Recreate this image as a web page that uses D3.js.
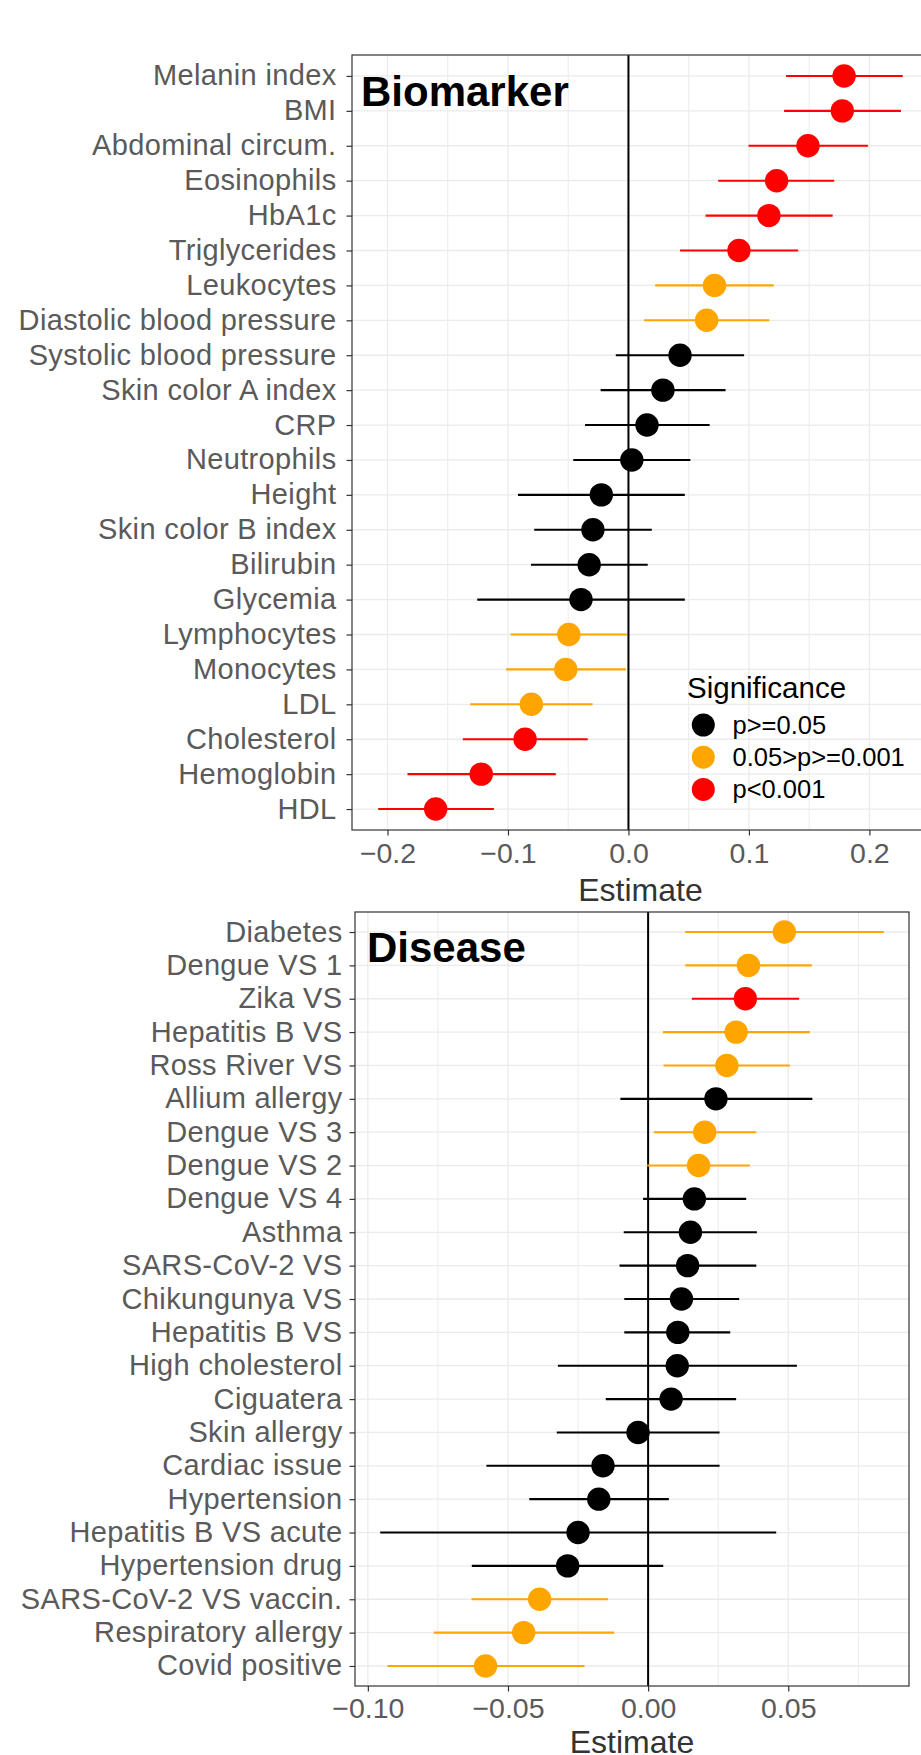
<!DOCTYPE html>
<html>
<head>
<meta charset="utf-8">
<script src="https://cdn.jsdelivr.net/npm/d3@7.9.0/dist/d3.min.js"></script>
<style>
  body { margin: 0; background: #fff; }
  svg { display: block; font-family: "Liberation Sans", Arial, Helvetica, sans-serif; }
</style>
</head>
<body>
<svg id="chart" width="921" height="1755"></svg>
<script>
// significance levels (legend order) and their colours
const sigLevels = ['p>=0.05', '0.05>p>=0.001', 'p<0.001'];
const sigColors = ['#000000', '#FFA500', '#FF0000'];

// Biomarker panel
const bioLabels = ['Melanin index', 'BMI', 'Abdominal circum.', 'Eosinophils', 'HbA1c', 'Triglycerides',
  'Leukocytes', 'Diastolic blood pressure', 'Systolic blood pressure', 'Skin color A index', 'CRP',
  'Neutrophils', 'Height', 'Skin color B index', 'Bilirubin', 'Glycemia', 'Lymphocytes', 'Monocytes',
  'LDL', 'Cholesterol', 'Hemoglobin', 'HDL'];
const bioEst = [0.179, 0.1775, 0.149, 0.123, 0.1166, 0.0917, 0.0714, 0.0649, 0.0428, 0.0286, 0.0154,
  0.0028, -0.0225, -0.0295, -0.0326, -0.0394, -0.0495, -0.052, -0.0806, -0.0858, -0.1222, -0.16];
const bioLo = [0.1308, 0.1292, 0.0997, 0.0745, 0.064, 0.0428, 0.0222, 0.0129, -0.0105, -0.0231, -0.036,
  -0.0458, -0.0917, -0.0782, -0.0809, -0.1255, -0.0978, -0.1015, -0.1314, -0.1375, -0.1834, -0.2077];
const bioHi = [0.2277, 0.2262, 0.1988, 0.1708, 0.1695, 0.1409, 0.1206, 0.1169, 0.096, 0.0806, 0.0674,
  0.0514, 0.0468, 0.0194, 0.016, 0.0468, -0.0012, -0.0022, -0.0298, -0.0338, -0.0603, -0.1117];
const bioSig = [2, 2, 2, 2, 2, 2, 1, 1, 0, 0, 0, 0, 0, 0, 0, 0, 1, 1, 1, 2, 2, 2];
const bioTicks = [-0.2, -0.1, 0, 0.1, 0.2];

// Disease panel
const disLabels = ['Diabetes', 'Dengue VS 1', 'Zika VS', 'Hepatitis B VS', 'Ross River VS', 'Allium allergy',
  'Dengue VS 3', 'Dengue VS 2', 'Dengue VS 4', 'Asthma', 'SARS-CoV-2 VS', 'Chikungunya VS', 'Hepatitis B VS',
  'High cholesterol', 'Ciguatera', 'Skin allergy', 'Cardiac issue', 'Hypertension', 'Hepatitis B VS acute',
  'Hypertension drug', 'SARS-CoV-2 VS vaccin.', 'Respiratory allergy', 'Covid positive'];
const disEst = [0.0486, 0.0358, 0.0347, 0.0314, 0.0281, 0.0242, 0.0202, 0.018, 0.0165, 0.0151, 0.0141,
  0.0119, 0.0106, 0.0104, 0.0082, -0.0036, -0.0161, -0.0176, -0.025, -0.0287, -0.0387, -0.0444, -0.058];
const disLo = [0.0132, 0.0133, 0.0156, 0.0053, 0.0055, -0.0099, 0.002, -0.0003, -0.0018, -0.0087, -0.0102,
  -0.0085, -0.0085, -0.0322, -0.0151, -0.0326, -0.0577, -0.0424, -0.0956, -0.0629, -0.063, -0.0765, -0.093];
const disHi = [0.0841, 0.0584, 0.0539, 0.0577, 0.0506, 0.0586, 0.0386, 0.0363, 0.035, 0.0388, 0.0386,
  0.0325, 0.0293, 0.0531, 0.0314, 0.0255, 0.0255, 0.0074, 0.0457, 0.0054, -0.0143, -0.0121, -0.0227];
const disSig = [1, 1, 2, 1, 1, 0, 1, 1, 0, 0, 0, 0, 0, 0, 0, 0, 0, 0, 0, 0, 1, 1, 1];
const disTicks = [-0.10, -0.05, 0, 0.05];

const svg = d3.select('#chart');
const AXIS_TEXT = '#5a5a5a';

function drawPanel(opt) {
  const { labels, est, lo, hi, sig, ticks, fmt, box, title } = opt;
  const n = labels.length;

  // ggplot style 5% expansion of the data range
  let lo0 = d3.min(lo), hi0 = d3.max(hi);
  let pad = (hi0 - lo0) * 0.05;
  let x = d3.scaleLinear().domain([lo0 - pad, hi0 + pad]).range([box.x0, box.x1]);
  let y = d3.scalePoint().domain(d3.range(n)).range([box.y0, box.y1]).padding(0.6);

  let clipId = 'clip-' + title;
  svg.append('clipPath').attr('id', clipId)
    .append('rect').attr('x', box.x0).attr('y', box.y0)
    .attr('width', box.x1 - box.x0).attr('height', box.y1 - box.y0);

  let g = svg.append('g').attr('clip-path', `url(#${clipId})`);

  // minor grid between the major ticks
  let step = ticks[1] - ticks[0];
  let minor = [ticks[0] - step / 2].concat(ticks.map(t => t + step / 2));
  g.selectAll('.minor').data(minor).join('line')
    .attr('x1', d => x(d)).attr('x2', d => x(d))
    .attr('y1', box.y0).attr('y2', box.y1)
    .attr('stroke', '#EBEBEB').attr('stroke-width', 1);
  g.selectAll('.majx').data(ticks).join('line')
    .attr('x1', d => x(d)).attr('x2', d => x(d))
    .attr('y1', box.y0).attr('y2', box.y1)
    .attr('stroke', '#EBEBEB').attr('stroke-width', 1.3);
  g.selectAll('.majy').data(d3.range(n)).join('line')
    .attr('x1', box.x0).attr('x2', box.x1)
    .attr('y1', d => y(d)).attr('y2', d => y(d))
    .attr('stroke', '#EBEBEB').attr('stroke-width', 1.3);

  // zero line
  g.append('line')
    .attr('x1', x(0)).attr('x2', x(0))
    .attr('y1', box.y0).attr('y2', box.y1)
    .attr('stroke', '#000').attr('stroke-width', 2);

  // intervals
  g.selectAll('.ci').data(d3.range(n)).join('line')
    .attr('x1', i => x(lo[i])).attr('x2', i => x(hi[i]))
    .attr('y1', i => y(i)).attr('y2', i => y(i))
    .attr('stroke', i => sigColors[sig[i]]).attr('stroke-width', 2.1);

  // estimates
  g.selectAll('.pt').data(d3.range(n)).join('circle')
    .attr('cx', i => x(est[i])).attr('cy', i => y(i)).attr('r', 11.7)
    .attr('fill', i => sigColors[sig[i]]);

  // panel title
  svg.append('text')
    .attr('x', box.x0 + opt.titleDx).attr('y', y(0) + 30)
    .attr('font-size', 42).attr('font-weight', 'bold').attr('fill', '#000')
    .text(title);

  // border
  svg.append('rect')
    .attr('x', box.x0).attr('y', box.y0)
    .attr('width', box.x1 - box.x0).attr('height', box.y1 - box.y0)
    .attr('fill', 'none').attr('stroke', '#333').attr('stroke-width', 1.2);

  // axes
  let ax = svg.append('g').attr('transform', `translate(0,${box.y1})`)
    .call(d3.axisBottom(x).tickValues(ticks).tickFormat(d3.format(fmt)).tickSize(5.5).tickPadding(opt.xPad));
  let ay = svg.append('g').attr('transform', `translate(${box.x0},0)`)
    .call(d3.axisLeft(y).tickFormat(i => labels[i]).tickSize(5.5).tickPadding(opt.yPad));
  [ax, ay].forEach(a => {
    a.select('.domain').remove();
    a.selectAll('line').attr('stroke', '#333').attr('stroke-width', 1.2);
    a.selectAll('text').attr('fill', AXIS_TEXT).attr('font-size', 29)
      .attr('font-family', '"Liberation Sans", Arial, Helvetica, sans-serif');
  });
  ax.selectAll('text').attr('font-size', 28.5);
  ay.selectAll('text').attr('dy', '0.31em').attr('letter-spacing', 0.35);

  svg.append('text')
    .attr('x', (box.x0 + box.x1) / 2).attr('y', box.y1 + opt.titleGap)
    .attr('text-anchor', 'middle').attr('font-size', 32).attr('fill', '#333')
    .text('Estimate');

  return { x, y };
}

drawPanel({
  labels: bioLabels, est: bioEst, lo: bioLo, hi: bioHi, sig: bioSig,
  ticks: bioTicks, fmt: '.1f', title: 'Biomarker', titleDx: 9,
  box: { x0: 352, x1: 929, y0: 55, y1: 830 }, xPad: 7.5, yPad: 10, titleGap: 71
});

drawPanel({
  labels: disLabels, est: disEst, lo: disLo, hi: disHi, sig: disSig,
  ticks: disTicks, fmt: '.2f', title: 'Disease', titleDx: 12,
  box: { x0: 355, x1: 909, y0: 912, y1: 1686 }, xPad: 6.5, yPad: 7, titleGap: 67
});

// legend, sitting inside the biomarker panel
const legend = svg.append('g').attr('transform', 'translate(687,698)');
legend.append('text').attr('x', 0).attr('y', 0)
  .attr('font-size', 29.5).attr('fill', '#000').text('Significance');
const items = legend.selectAll('.item').data(sigLevels).join('g')
  .attr('transform', (d, i) => `translate(0,${27 + i * 32.2})`);
items.append('circle').attr('cx', 16.3).attr('cy', 0).attr('r', 11.5)
  .attr('fill', (d, i) => sigColors[i]);
items.append('text').attr('x', 45.5).attr('y', 9)
  .attr('font-size', 25.5).attr('fill', '#000').text(d => d);
</script>
</body>
</html>
